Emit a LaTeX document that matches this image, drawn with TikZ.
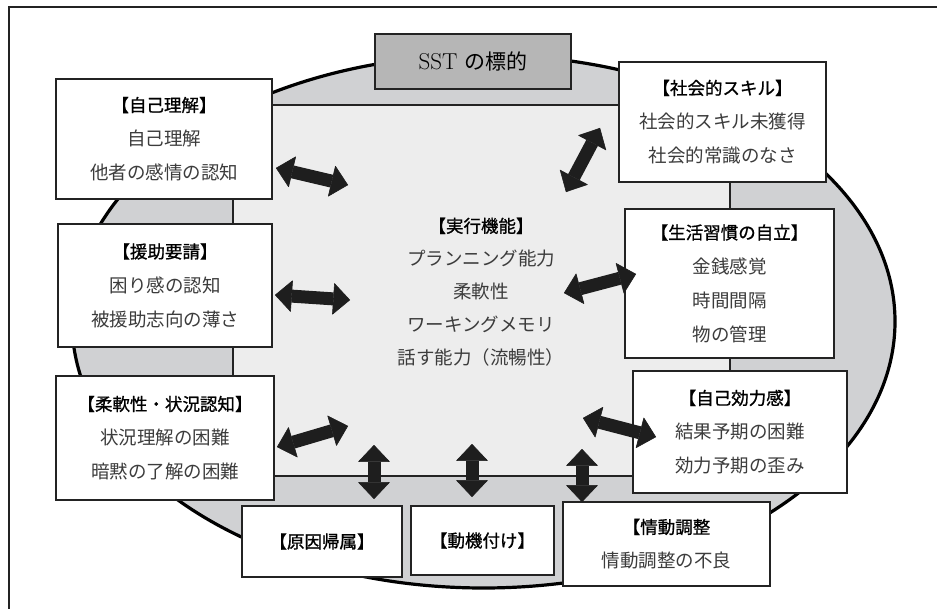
\documentclass[tikz,border=0pt]{standalone}
\usepackage{fontspec}
\newfontfamily\jp{Noto Sans CJK JP}
\newfontfamily\jph{Noto Sans CJK JP}[FakeBold=1]
\usetikzlibrary{arrows.meta}
\definecolor{ellgray}{RGB}{208,209,211}
\definecolor{innergray}{RGB}{237,237,237}
\definecolor{sstgray}{RGB}{182,182,182}
\definecolor{linegray}{RGB}{35,35,35}
\definecolor{bodytext}{RGB}{60,60,60}
\definecolor{arrowblack}{RGB}{30,30,30}
\newcommand{\hd}[1]{{\jph\fontsize{17.5}{34}\selectfont\color{black}【#1】}}
\newcommand{\hdo}[1]{{\jph\fontsize{17.5}{34}\selectfont\color{black}【#1}}
\tikzset{
  box/.style={draw=linegray, line width=1.8pt, fill=white, align=center,
    font=\jp\fontsize{18.5}{34}\selectfont, text=bodytext, inner sep=0pt},
  dblarrow/.style={draw=arrowblack, line width=13pt,
    {Triangle[length=17pt,width=32pt,line width=0.6pt,round]}-{Triangle[length=17pt,width=32pt,line width=0.6pt,round]}}
}
\begin{document}
\begin{tikzpicture}[x=1pt,y=-1pt]
\useasboundingbox (0,0) rectangle (937,609);
% outer frame (right and bottom edges lie outside the picture)
\draw[linegray, line width=1.4pt] (9,609) -- (9,7) -- (937,7);
% large ellipse
\draw[line width=3.2pt, fill=ellgray] (483.5,321.5) ellipse [x radius=411.5pt, y radius=266.5pt];
% inner region
\node[draw=linegray, line width=1.3pt, fill=innergray, minimum width=497pt, minimum height=371pt, inner sep=0pt] (core) at (481.5,290.5) {};
% title box
\node[draw=linegray, line width=1.3pt, fill=sstgray, minimum width=196pt, minimum height=55pt, inner sep=0pt] (sst) at (473,61.5) {\fontsize{23}{26}\selectfont SST {\jp\fontsize{21}{26}\selectfont の標的}};
% boxes
\node[box, minimum width=216pt, minimum height=120pt] (jiko) at (164,139) {\hd{自己理解}\\自己理解\\他者の感情の認知};
\node[box, minimum width=214pt, minimum height=123pt] (enjo) at (165,285.5) {\hd{援助要請}\\困り感の認知\\被援助志向の薄さ};
\node[box, minimum width=218pt, minimum height=124pt] (jyunan) at (165,438) {\hd{柔軟性・状況認知}\\状況理解の困難\\暗黙の了解の困難};
\node[box, minimum width=160pt, minimum height=71pt] (genin) at (322,541.5) {\hd{原因帰属}};
\node[box, minimum width=143pt, minimum height=69pt] (doki) at (482.5,540.5) {\hd{動機付け}};
\node[box, minimum width=207pt, minimum height=84pt] (jodo) at (666.5,544) {\hdo{情動調整}\\情動調整の不良};
\node[box, minimum width=214pt, minimum height=122pt] (koryoku) at (740,432) {\hd{自己効力感}\\結果予期の困難\\効力予期の歪み};
\node[box, minimum width=209pt, minimum height=149pt] (seikatsu) at (729.5,283.5) {\hd{生活習慣の自立}\\金銭感覚\\時間間隔\\物の管理};
\node[box, minimum width=207pt, minimum height=120pt] (shakai) at (722.5,122) {\hd{社会的スキル}\\社会的スキル未獲得\\社会的常識のなさ};
% central text
\node[align=center, font=\jp\fontsize{18.5}{33}\selectfont, text=bodytext, inner sep=0pt] (exec) at (481,292) {\hd{実行機能}\\プランニング能力\\柔軟性\\ワーキングメモリ\\話す能力（流暢性）};
% arrow end points
\coordinate (a1s) at (276,168); \coordinate (a1e) at (348,185);
\coordinate (a2s) at (275,295); \coordinate (a2e) at (350,300);
\coordinate (a3s) at (277,447); \coordinate (a3e) at (348,426);
\coordinate (a4s) at (374,445); \coordinate (a4e) at (374,499);
\coordinate (a5s) at (472,444); \coordinate (a5e) at (472,497);
\coordinate (a6s) at (582,449); \coordinate (a6e) at (582,502);
\coordinate (a7s) at (583,418); \coordinate (a7e) at (656,437);
\coordinate (a8s) at (564,293); \coordinate (a8e) at (636,274);
\coordinate (a9s) at (566,192); \coordinate (a9e) at (600,128);
\foreach \i in {1,...,9} \draw[dblarrow] (a\i s) -- (a\i e);
\end{tikzpicture}
\end{document}
